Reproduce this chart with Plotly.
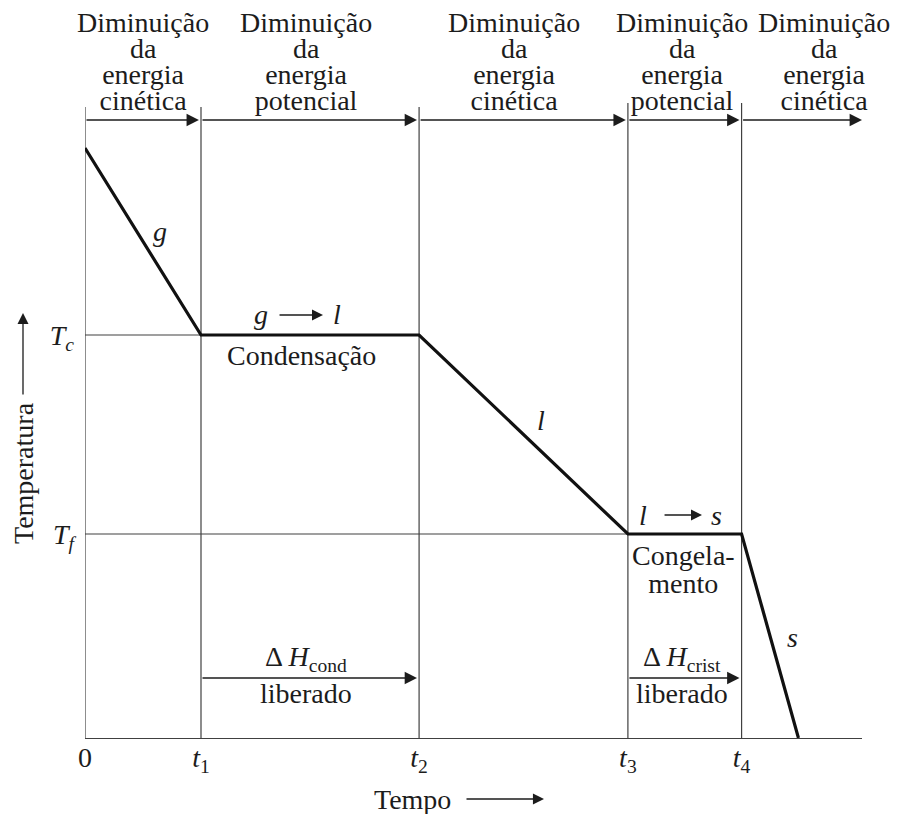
import plotly.graph_objects as go

# ---------------- data ----------------
# cooling curve: time (arbitrary units, t1 = 1) and temperature (arbitrary units)
time_pts = [0.0, 1.0, 2.88, 4.68, 5.66, 6.15]
temp_pts = [5.90, 4.03, 4.03, 2.04, 2.04, 0.0]

# characteristic times and their labels
t_vals = [0.0, 1.0, 2.88, 4.68, 5.66]
t_labels = ["0", "<i>t</i><sub>1</sub>", "<i>t</i><sub>2</sub>",
            "<i>t</i><sub>3</sub>", "<i>t</i><sub>4</sub>"]

# characteristic temperatures and their labels
T_vals = [4.03, 2.04]
T_labels = ["<i>T</i><sub><i>c</i></sub>", "<i>T</i><sub><i>f</i></sub>"]

# header text for each time interval
header_cols = [
    ["Diminuição", "da", "energia", "cinética"],
    ["Diminuição", "da", "energia", "potencial"],
    ["Diminuição", "da", "energia", "cinética"],
    ["Diminuição", "da", "energia", "potencial"],
    ["Diminuição", "da", "energia", "cinética"],
]
header_x = [0.50, 1.905, 3.698, 5.147, 6.37]

X_MAX = 6.698
Y_MAX = 6.35

FONT = "Liberation Serif"
INK = "#1c1c1c"
FS = 28

fig = go.Figure()

# thick cooling curve
fig.add_trace(go.Scatter(x=time_pts, y=temp_pts, mode="lines",
                         line=dict(color="#111111", width=3.2),
                         hoverinfo="skip", showlegend=False))

shapes = []
thin = dict(color="#404040", width=1.2)
# vertical guide lines at 0, t1..t4
tops = [6.31, 6.31, 6.31, 6.35, 6.35]
for tv, top in zip(t_vals, tops):
    shapes.append(dict(type="line", xref="x", yref="y", x0=tv, x1=tv, y0=0, y1=top,
                       line=thin, layer="below"))
# horizontal guide lines at Tc and Tf
shapes.append(dict(type="line", xref="x", yref="y", x0=0, x1=t_vals[2], y0=T_vals[0], y1=T_vals[0],
                   line=thin, layer="below"))
shapes.append(dict(type="line", xref="x", yref="y", x0=0, x1=t_vals[3], y0=T_vals[1], y1=T_vals[1],
                   line=thin, layer="below"))

ann = []

def text(x, y, s, size=FS, paper=False, **kw):
    if paper:
        d = dict(x=x / X_MAX, y=y / Y_MAX, xref="paper", yref="paper")
    else:
        d = dict(x=x, y=y, xref="x", yref="y")
    d.update(text=s, showarrow=False,
             font=dict(family=FONT, size=size, color=INK),
             xanchor="center", yanchor="middle")
    d.update(kw)
    ann.append(d)

def tight_lines(lines, glyph_size=FS):
    # glyphs drawn at glyph_size; the line pitch follows the (smaller) annotation font
    return "<br>".join(f"<span style='font-size:{glyph_size}px'>{s}</span>" for s in lines)

def arrow(x0, y0, x1, y1, size=1.9, width=1.3):
    ann.append(dict(x=x1, y=y1, ax=x0, ay=y0, xref="x", yref="y", axref="x", ayref="y",
                    text="", showarrow=True, arrowhead=2, arrowsize=size,
                    arrowwidth=width, arrowcolor=INK, standoff=0, startstandoff=0))

# header text (tight leading, ~26 px between lines)
for cx, lines in zip(header_x, header_cols):
    text(cx, 6.77, tight_lines(lines), size=20, paper=True)

# header arrows
arrow_y = 6.18
bounds = t_vals + [X_MAX]
for i in range(len(t_vals)):
    tip = bounds[i + 1] - (0.0 if i == len(t_vals) - 1 else 0.018)
    arrow(bounds[i], arrow_y, tip, arrow_y)

# phase labels
text(0.647, 5.065, "<i>g</i>")
text(1.52, 4.235, "<i>g</i>")
arrow(1.664, 4.23, 2.052, 4.23, size=1.7)
text(2.17, 4.235, "<i>l</i>")
text(1.862, 3.825, "Condensação")
text(3.931, 3.175, "<i>l</i>")
text(4.81, 2.225, "<i>l</i>")
arrow(4.983, 2.23, 5.319, 2.23, size=1.7)
text(5.448, 2.225, "<i>s</i>")
text(5.155, 1.685, tight_lines(["Congela-", "mento"]), size=21.5)
text(6.103, 1.005, "<i>s</i>")

# enthalpy released
text(1.905, 0.80, "Δ <i>H</i><sub>cond</sub>")
arrow(t_vals[1], 0.60, t_vals[2] - 0.018, 0.60)
text(1.905, 0.445, "liberado")
text(5.147, 0.80, "Δ <i>H</i><sub>crist</sub>")
arrow(t_vals[3], 0.60, t_vals[4] - 0.018, 0.60)
text(5.147, 0.445, "liberado")

# axis titles, each with its arrow (arrow starts at the title's box edge)
ann.append(dict(x=(544 - 85) / 777, y=(738 - 799) / 635, xref="paper", yref="paper",
                ax=-172, ay=0, axref="pixel", ayref="pixel",
                text="Tempo\u00a0\u00a0", xanchor="left", yanchor="middle",
                font=dict(family=FONT, size=FS, color=INK),
                showarrow=True, arrowhead=2, arrowsize=1.7, arrowwidth=1.3,
                arrowcolor=INK, standoff=0))
ann.append(dict(x=(23 - 85) / 777, y=(738 - 313) / 635, xref="paper", yref="paper",
                ax=0, ay=157, axref="pixel", ayref="pixel",
                text="Temperatura\u00a0", textangle=-90,
                xanchor="center", yanchor="middle",
                font=dict(family=FONT, size=FS, color=INK),
                showarrow=True, arrowhead=2, arrowsize=1.7, arrowwidth=1.3,
                arrowcolor=INK, standoff=0))

fig.update_layout(
    width=904, height=814,
    margin=dict(l=85, r=42, t=103, b=76),
    paper_bgcolor="white", plot_bgcolor="white",
    showlegend=False,
    shapes=shapes, annotations=ann,
    font=dict(family=FONT, size=FS, color=INK),
    xaxis=dict(range=[0, X_MAX], tickvals=t_vals, ticktext=t_labels,
               showgrid=False, zeroline=False, showline=True,
               linecolor="#404040", linewidth=1.2, ticks="",
               ticklabelstandoff=-6,
               tickfont=dict(family=FONT, size=FS, color=INK),
               fixedrange=True),
    yaxis=dict(range=[0, Y_MAX], tickvals=T_vals, ticktext=T_labels,
               showgrid=False, zeroline=False, showline=False, ticks="",
               ticklabelstandoff=10,
               tickfont=dict(family=FONT, size=FS, color=INK),
               fixedrange=True),
)

fig.write_html("out.html", config={"displayModeBar": False},
               post_script="document.body.style.margin='0';")
